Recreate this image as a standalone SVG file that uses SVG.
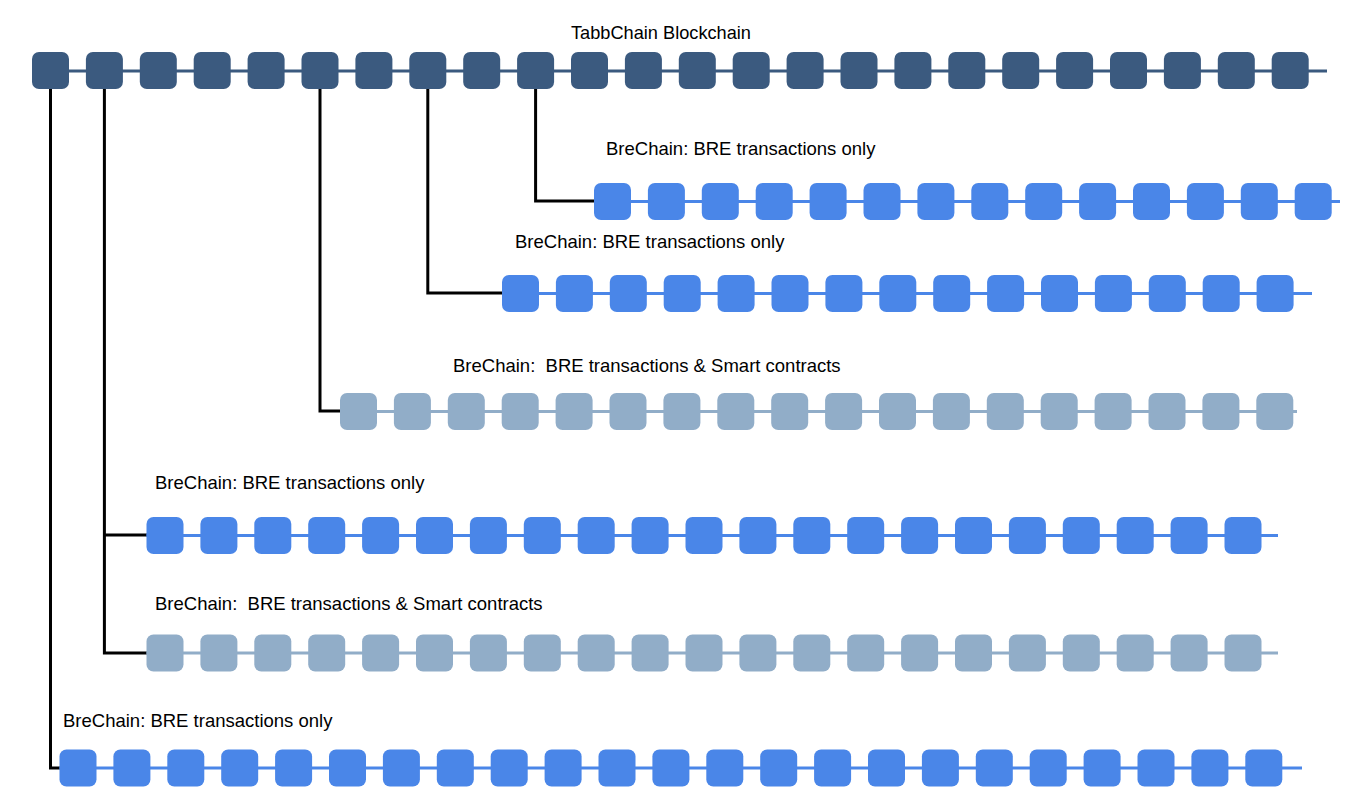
<svg xmlns="http://www.w3.org/2000/svg" xmlns:xlink="http://www.w3.org/1999/xlink" width="1346" height="812" viewBox="0 0 1346 812">
<style>
.lbl{font-family:"Liberation Sans",Arial,sans-serif;font-size:18.5px;fill:#000}
.dark{fill:#3b5a7f}
.blue{fill:#4a86e8}
.light{fill:#91adc8}
.ldark{stroke:#3b5a7f;stroke-width:3;fill:none}
.lblue{stroke:#4a86e8;stroke-width:3;fill:none}
.llight{stroke:#91adc8;stroke-width:3;fill:none}
.conn{stroke:#000;stroke-width:3;fill:none}
</style>
<defs>
<rect id="b" width="37" height="37" rx="7"/>
</defs>
<rect width="1346" height="812" fill="#fff"/>
<g id="connectors">
<polyline class="conn" points="50.5,89 50.5,768 61,768"/>
<polyline class="conn" points="104.4,89 104.4,653 148,653"/>
<polyline class="conn" points="104.4,535 148,535"/>
<polyline class="conn" points="320,89 320,411 342,411"/>
<polyline class="conn" points="427.8,89 427.8,293 504,293"/>
<polyline class="conn" points="535.6,89 535.6,201 596,201"/>
</g>
<g id="main-chain">
<text class="lbl" x="571" y="39" style="font-size:18.2px">TabbChain Blockchain</text>
<line class="ldark" x1="32" y1="71" x2="1327" y2="71"/>
<g class="dark">
<use xlink:href="#b" x="32" y="52"/><use xlink:href="#b" x="85.9" y="52"/><use xlink:href="#b" x="139.8" y="52"/><use xlink:href="#b" x="193.7" y="52"/><use xlink:href="#b" x="247.6" y="52"/><use xlink:href="#b" x="301.5" y="52"/><use xlink:href="#b" x="355.4" y="52"/><use xlink:href="#b" x="409.3" y="52"/><use xlink:href="#b" x="463.2" y="52"/><use xlink:href="#b" x="517.1" y="52"/><use xlink:href="#b" x="571" y="52"/><use xlink:href="#b" x="624.9" y="52"/><use xlink:href="#b" x="678.8" y="52"/><use xlink:href="#b" x="732.7" y="52"/><use xlink:href="#b" x="786.6" y="52"/><use xlink:href="#b" x="840.5" y="52"/><use xlink:href="#b" x="894.4" y="52"/><use xlink:href="#b" x="948.3" y="52"/><use xlink:href="#b" x="1002.2" y="52"/><use xlink:href="#b" x="1056.1" y="52"/><use xlink:href="#b" x="1110" y="52"/><use xlink:href="#b" x="1163.9" y="52"/><use xlink:href="#b" x="1217.8" y="52"/><use xlink:href="#b" x="1271.7" y="52"/>
</g>
</g>
<g id="brechain-1">
<text class="lbl" x="606" y="155">BreChain: BRE transactions only</text>
<line class="lblue" x1="594" y1="201.5" x2="1340" y2="201.5"/>
<g class="blue">
<use xlink:href="#b" x="594" y="183"/><use xlink:href="#b" x="647.9" y="183"/><use xlink:href="#b" x="701.8" y="183"/><use xlink:href="#b" x="755.7" y="183"/><use xlink:href="#b" x="809.6" y="183"/><use xlink:href="#b" x="863.5" y="183"/><use xlink:href="#b" x="917.4" y="183"/><use xlink:href="#b" x="971.3" y="183"/><use xlink:href="#b" x="1025.2" y="183"/><use xlink:href="#b" x="1079.1" y="183"/><use xlink:href="#b" x="1133" y="183"/><use xlink:href="#b" x="1186.9" y="183"/><use xlink:href="#b" x="1240.8" y="183"/><use xlink:href="#b" x="1294.7" y="183"/>
</g>
</g>
<g id="brechain-2">
<text class="lbl" x="515" y="248">BreChain: BRE transactions only</text>
<line class="lblue" x1="502" y1="293.5" x2="1312" y2="293.5"/>
<g class="blue">
<use xlink:href="#b" x="502" y="275"/><use xlink:href="#b" x="555.9" y="275"/><use xlink:href="#b" x="609.8" y="275"/><use xlink:href="#b" x="663.7" y="275"/><use xlink:href="#b" x="717.6" y="275"/><use xlink:href="#b" x="771.5" y="275"/><use xlink:href="#b" x="825.4" y="275"/><use xlink:href="#b" x="879.3" y="275"/><use xlink:href="#b" x="933.2" y="275"/><use xlink:href="#b" x="987.1" y="275"/><use xlink:href="#b" x="1041" y="275"/><use xlink:href="#b" x="1094.9" y="275"/><use xlink:href="#b" x="1148.8" y="275"/><use xlink:href="#b" x="1202.7" y="275"/><use xlink:href="#b" x="1256.6" y="275"/>
</g>
</g>
<g id="brechain-3">
<text class="lbl" x="453" y="372" xml:space="preserve">BreChain:  BRE transactions &amp; Smart contracts</text>
<line class="llight" x1="340" y1="411.5" x2="1297" y2="411.5"/>
<g class="light">
<use xlink:href="#b" x="340" y="393"/><use xlink:href="#b" x="393.9" y="393"/><use xlink:href="#b" x="447.8" y="393"/><use xlink:href="#b" x="501.7" y="393"/><use xlink:href="#b" x="555.6" y="393"/><use xlink:href="#b" x="609.5" y="393"/><use xlink:href="#b" x="663.4" y="393"/><use xlink:href="#b" x="717.3" y="393"/><use xlink:href="#b" x="771.2" y="393"/><use xlink:href="#b" x="825.1" y="393"/><use xlink:href="#b" x="879" y="393"/><use xlink:href="#b" x="932.9" y="393"/><use xlink:href="#b" x="986.8" y="393"/><use xlink:href="#b" x="1040.7" y="393"/><use xlink:href="#b" x="1094.6" y="393"/><use xlink:href="#b" x="1148.5" y="393"/><use xlink:href="#b" x="1202.4" y="393"/><use xlink:href="#b" x="1256.3" y="393"/>
</g>
</g>
<g id="brechain-4">
<text class="lbl" x="155" y="489">BreChain: BRE transactions only</text>
<line class="lblue" x1="146.5" y1="535.5" x2="1278" y2="535.5"/>
<g class="blue">
<use xlink:href="#b" x="146.5" y="517"/><use xlink:href="#b" x="200.4" y="517"/><use xlink:href="#b" x="254.3" y="517"/><use xlink:href="#b" x="308.2" y="517"/><use xlink:href="#b" x="362.1" y="517"/><use xlink:href="#b" x="416" y="517"/><use xlink:href="#b" x="469.9" y="517"/><use xlink:href="#b" x="523.8" y="517"/><use xlink:href="#b" x="577.7" y="517"/><use xlink:href="#b" x="631.6" y="517"/><use xlink:href="#b" x="685.5" y="517"/><use xlink:href="#b" x="739.4" y="517"/><use xlink:href="#b" x="793.3" y="517"/><use xlink:href="#b" x="847.2" y="517"/><use xlink:href="#b" x="901.1" y="517"/><use xlink:href="#b" x="955" y="517"/><use xlink:href="#b" x="1008.9" y="517"/><use xlink:href="#b" x="1062.8" y="517"/><use xlink:href="#b" x="1116.7" y="517"/><use xlink:href="#b" x="1170.6" y="517"/><use xlink:href="#b" x="1224.5" y="517"/>
</g>
</g>
<g id="brechain-5">
<text class="lbl" x="155" y="610" xml:space="preserve">BreChain:  BRE transactions &amp; Smart contracts</text>
<line class="llight" x1="146.5" y1="653" x2="1278" y2="653"/>
<g class="light">
<use xlink:href="#b" x="146.5" y="634.5"/><use xlink:href="#b" x="200.4" y="634.5"/><use xlink:href="#b" x="254.3" y="634.5"/><use xlink:href="#b" x="308.2" y="634.5"/><use xlink:href="#b" x="362.1" y="634.5"/><use xlink:href="#b" x="416" y="634.5"/><use xlink:href="#b" x="469.9" y="634.5"/><use xlink:href="#b" x="523.8" y="634.5"/><use xlink:href="#b" x="577.7" y="634.5"/><use xlink:href="#b" x="631.6" y="634.5"/><use xlink:href="#b" x="685.5" y="634.5"/><use xlink:href="#b" x="739.4" y="634.5"/><use xlink:href="#b" x="793.3" y="634.5"/><use xlink:href="#b" x="847.2" y="634.5"/><use xlink:href="#b" x="901.1" y="634.5"/><use xlink:href="#b" x="955" y="634.5"/><use xlink:href="#b" x="1008.9" y="634.5"/><use xlink:href="#b" x="1062.8" y="634.5"/><use xlink:href="#b" x="1116.7" y="634.5"/><use xlink:href="#b" x="1170.6" y="634.5"/><use xlink:href="#b" x="1224.5" y="634.5"/>
</g>
</g>
<g id="brechain-6">
<text class="lbl" x="63" y="727">BreChain: BRE transactions only</text>
<line class="lblue" x1="59.5" y1="768" x2="1302" y2="768"/>
<g class="blue">
<use xlink:href="#b" x="59.5" y="749.5"/><use xlink:href="#b" x="113.4" y="749.5"/><use xlink:href="#b" x="167.3" y="749.5"/><use xlink:href="#b" x="221.2" y="749.5"/><use xlink:href="#b" x="275.1" y="749.5"/><use xlink:href="#b" x="329" y="749.5"/><use xlink:href="#b" x="382.9" y="749.5"/><use xlink:href="#b" x="436.8" y="749.5"/><use xlink:href="#b" x="490.7" y="749.5"/><use xlink:href="#b" x="544.6" y="749.5"/><use xlink:href="#b" x="598.5" y="749.5"/><use xlink:href="#b" x="652.4" y="749.5"/><use xlink:href="#b" x="706.3" y="749.5"/><use xlink:href="#b" x="760.2" y="749.5"/><use xlink:href="#b" x="814.1" y="749.5"/><use xlink:href="#b" x="868" y="749.5"/><use xlink:href="#b" x="921.9" y="749.5"/><use xlink:href="#b" x="975.8" y="749.5"/><use xlink:href="#b" x="1029.7" y="749.5"/><use xlink:href="#b" x="1083.6" y="749.5"/><use xlink:href="#b" x="1137.5" y="749.5"/><use xlink:href="#b" x="1191.4" y="749.5"/><use xlink:href="#b" x="1245.3" y="749.5"/>
</g>
</g>
</svg>
